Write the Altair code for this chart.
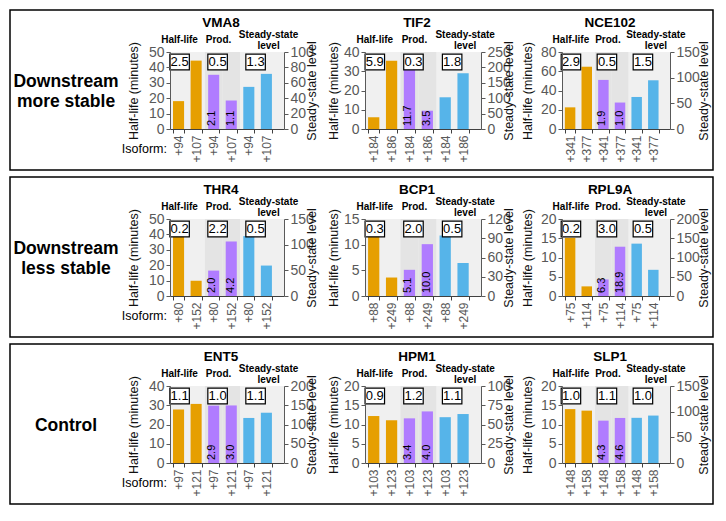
import altair as alt
import pandas as pd

row_labels = ["Downstream\nmore stable", "Downstream\nless stable", "Control"]
genes = ["VMA8", "TIF2", "NCE102", "THR4", "BCP1", "RPL9A", "ENT5", "HPM1", "SLP1"]
isoforms = [["+94", "+107"], ["+184", "+186"], ["+341", "+377"],
            ["+80", "+152"], ["+88", "+249"], ["+75", "+114"],
            ["+97", "+121"], ["+103", "+123"], ["+148", "+158"]]
half_life = [[18.1, 44.4], [6.1, 35.4], [22.5, 64.7],
             [41.2, 9.9], [12.7, 3.6], [15.1, 2.5],
             [27.8, 30.7], [12.2, 11.1], [14.0, 13.6]]
prod_bar = [[35.2, 18.5], [31.6, 9.5], [51.0, 27.5],
            [16.5, 35.4], [5.1, 10.1], [4.3, 12.8],
            [29.8, 29.9], [11.6, 13.4], [11.0, 11.7]]
prod_label = [["2.1", "1.1"], ["11.7", "3.5"], ["1.9", "1.0"],
              ["2.0", "4.2"], ["5.1", "10.0"], ["6.3", "18.9"],
              ["2.9", "3.0"], ["3.4", "4.0"], ["4.3", "4.6"]]
steady = [[54.7, 71.6], [103, 181], [62.4, 94.9],
          [116.7, 59.3], [94.3, 51.4], [136, 68],
          [117, 130.6], [59.5, 63.6], [88, 92.4]]
ratios = [["2.5", "0.5", "1.3"], ["5.9", "0.3", "1.8"], ["2.9", "0.5", "1.5"],
          ["0.2", "2.2", "0.5"], ["0.3", "2.0", "0.5"], ["0.2", "3.0", "0.5"],
          ["1.1", "1.0", "1.1"], ["0.9", "1.2", "1.1"], ["1.0", "1.1", "1.0"]]
left_max = [50, 40, 80, 50, 15, 20, 40, 20, 20]
left_step = [10, 10, 20, 10, 5, 5, 10, 5, 5]
right_max = [100, 250, 150, 150, 120, 200, 200, 100, 150]
right_step = [20, 50, 50, 50, 30, 50, 50, 25, 50]
groups = ["Half-life", "Prod.", "Steady-state level"]
headers = ["Half-life", "Prod.", "Steady-state\nlevel"]
colors = ["#E69F00", "#B07CFF", "#56B4E9"]

FONT = "Liberation Sans"
PANEL_W = [114, 116, 108]
H = 77
L_TITLE_X = [-37, -32, -35]
R_TITLE_X = [27, 27, 33]
GRAY = "#595959"
P_IN, P_OUT, ALIGN = 0.37, 0.43, 0.2
HEADER_DX = [-3, -2, 10]


def panel(i):
    c = i % 3
    w = PANEL_W[c]
    step = w / (6 - P_IN + 2 * P_OUT)
    iso = isoforms[i]
    vals = [half_life[i], prod_bar[i], steady[i]]
    recs = []
    for g, v in zip(groups, vals):
        for j in range(2):
            recs.append(dict(key=f"{g}|{iso[j]}", group=g, val=v[j],
                             lab=prod_label[i][j] if g == "Prod." else ""))
    bars_df = pd.DataFrame(recs)
    keys = bars_df["key"].tolist()
    grp_df = pd.DataFrame(dict(group=groups, ratio=ratios[i], header=headers,
                               k1=[f"{g}|{iso[0]}" for g in groups]))

    key_scale = alt.Scale(domain=keys, paddingInner=P_IN, paddingOuter=P_OUT, align=ALIGN)
    kx = alt.X("key:N", sort=keys, scale=key_scale, axis=None)
    gx = alt.X("k1:N", scale=key_scale, axis=None)

    base_b = alt.Chart(bars_df)
    base_g = alt.Chart(grp_df)

    bg_light = alt.Chart(pd.DataFrame({"a": [0]})).mark_rect(color="#f0f0f0").encode(
        x=alt.value(0), x2=alt.value(w), y=alt.value(0), y2=alt.value(H))
    bg_dark = base_b.mark_bar(color="#e4e4e4",
                              width=alt.RelativeBandSize(band=1 / (1 - P_IN))).encode(
        x=kx, y=alt.value(0), y2=alt.value(H)
    ).transform_filter("datum.group == 'Prod.'")

    color = alt.Color("group:N", scale=alt.Scale(domain=groups, range=colors), legend=None)

    left = base_b.mark_bar().encode(
        x=alt.X("key:N", sort=keys, scale=key_scale,
                axis=alt.Axis(title=None, labelExpr="split(datum.value, '|')[1]",
                              labelAngle=270, labelFontSize=12, labelColor=GRAY,
                              domainColor="#404040", tickColor="#404040",
                              tickBand="extent", tickSize=4, labelPadding=2, zindex=1)),
        y=alt.Y("val:Q", scale=alt.Scale(domain=[0, left_max[i]]),
                axis=alt.Axis(values=list(range(0, left_max[i] + 1, left_step[i])),
                              title="Half-life (minutes)", titleX=L_TITLE_X[c], titleY=H / 2,
                              titleAngle=270, titleAlign="center", titleBaseline="middle",
                              titleFontSize=12.5, titleFontWeight="normal", titleColor="#111",
                              labelFontSize=14, labelColor=GRAY, labelOverlap=False,
                              domainColor=GRAY, tickColor=GRAY, tickSize=4,
                              labelPadding=2, zindex=1)),
        color=color,
    ).transform_filter("datum.group != 'Steady-state level'")

    right = base_b.mark_bar().encode(
        x=kx,
        y=alt.Y("val:Q", scale=alt.Scale(domain=[0, right_max[i]]),
                axis=alt.Axis(orient="right",
                              values=list(range(0, right_max[i] + 1, right_step[i])),
                              title="Steady-state level", titleX=R_TITLE_X[c], titleY=H / 2,
                              titleAngle=270, titleAlign="center", titleBaseline="middle",
                              titleFontSize=12.5, titleFontWeight="normal", titleColor="#111",
                              labelFontSize=14, labelColor=GRAY, labelOverlap=False,
                              domainColor=GRAY, tickColor=GRAY, tickSize=4,
                              labelPadding=2, zindex=1)),
        color=color,
    ).transform_filter("datum.group == 'Steady-state level'")

    plabels = base_b.mark_text(angle=270, align="left", baseline="middle", dx=3,
                               fontSize=11, color="black").encode(
        x=kx, y=alt.value(H), text="lab:N",
    ).transform_filter("datum.group == 'Prod.'")

    box_shift = step / 2 - 3
    boxes = base_g.mark_point(shape="M-1,-0.8L1,-0.8L1,0.8L-1,0.8Z", size=380, filled=True,
                              fill="white", stroke="black", strokeWidth=1.2, opacity=1,
                              xOffset=box_shift).encode(
        x=gx, y=alt.value(10))
    rtext = base_g.mark_text(fontSize=13, baseline="middle", color="black",
                             dx=box_shift).encode(
        x=gx, y=alt.value(10), text="ratio:N")

    hdrs = []
    for g, hdx in zip(groups, HEADER_DX):
        multi = "\n" in headers[groups.index(g)]
        hdrs.append(base_g.mark_text(fontSize=10, fontWeight="bold", baseline="middle",
                                     lineBreak="\n", lineHeight=11.5, color="black",
                                     dx=step / 2 + hdx).encode(
            x=gx, y=alt.value(-17.5 if multi else -12), text="header:N"
        ).transform_filter(alt.datum.group == g))

    title = alt.Chart(pd.DataFrame({"g": [genes[i]]})).mark_text(
        fontSize=13.5, fontWeight="bold", baseline="middle", color="black").encode(
        x=alt.value(w / 2 - 6), y=alt.value(-29), text="g:N")

    layers = [bg_light, bg_dark, left, right, plabels, boxes, rtext] + hdrs + [title]

    if c == 0:
        r = i // 3
        nlines = row_labels[r].count("\n") + 1
        border = alt.Chart(pd.DataFrame({"a": [0]})).mark_rect(
            fillOpacity=0, stroke="black", strokeWidth=1.5).encode(
            x=alt.value(-160), x2=alt.value(543), y=alt.value(-42), y2=alt.value(118))
        rlab = alt.Chart(pd.DataFrame({"t": [row_labels[r]]})).mark_text(
            fontSize=17.5, fontWeight="bold", lineBreak="\n", lineHeight=20,
            align="center", baseline="middle", color="black").encode(
            x=alt.value(-104), y=alt.value(H / 2 + 1 - (nlines - 1) * 10), text="t:N")
        isol = alt.Chart(pd.DataFrame({"t": ["Isoform:"]})).mark_text(
            fontSize=12.5, align="right", baseline="middle", color="black").encode(
            x=alt.value(-3), y=alt.value(H + 20), text="t:N")
        layers = [border] + layers + [rlab, isol]

    return alt.layer(*layers).resolve_scale(x="independent", y="independent").properties(
        width=w, height=H)


panels = [panel(i) for i in range(9)]

chart = alt.concat(*panels, columns=3, spacing=alt.RowColnumber(row=90, column=81),
                   bounds="flush").properties(
    padding=1, background="white"
).configure_view(strokeWidth=0).configure_axis(
    grid=False, labelFont=FONT, titleFont=FONT
).configure_text(font=FONT)

chart.save("out.html", embed_options={"renderer": "svg", "actions": False})
